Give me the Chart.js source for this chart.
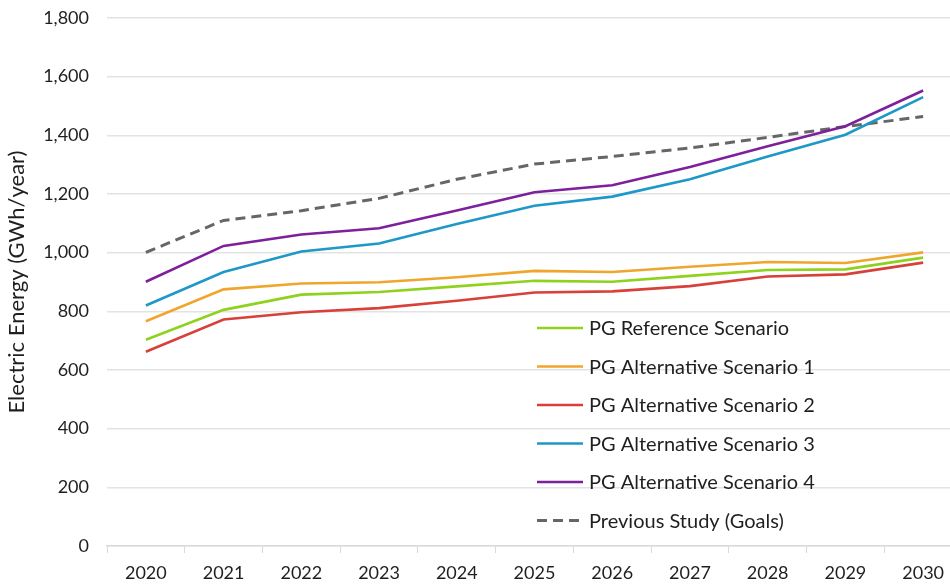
<!DOCTYPE html>
<html>
<head>
<meta charset="utf-8">
<script src="https://cdn.jsdelivr.net/npm/chart.js@4.4.1/dist/chart.umd.min.js"></script>
<style>
  html, body { margin: 0; padding: 0; background: #fff; overflow: hidden; }
  #wrap { width: 962px; height: 584px; }
</style>
</head>
<body>
<div id="wrap"><canvas id="energyChart"></canvas></div>
<script>
const years = ["2020", "2021", "2022", "2023", "2024", "2025", "2026", "2027", "2028", "2029", "2030"];

const pgReference = [703, 805, 857, 866, 885, 904, 901, 921, 941, 943, 983];
const pgAlt1 = [766, 875, 895, 899, 916, 938, 934, 952, 968, 965, 1001];
const pgAlt2 = [662, 772, 797, 811, 836, 864, 868, 886, 919, 926, 966];
const pgAlt3 = [820, 934, 1004, 1031, 1098, 1160, 1191, 1250, 1328, 1402, 1530];
const pgAlt4 = [901, 1023, 1062, 1083, 1144, 1206, 1230, 1292, 1363, 1431, 1553];
const previousStudy = [1001, 1110, 1143, 1185, 1250, 1302, 1328, 1357, 1393, 1430, 1464];

const yTicks = [0, 200, 400, 600, 800, 1000, 1200, 1400, 1600, 1800];

const FONT = "Lato, 'Open Sans', sans-serif";

// legend drawn inside the plot area, lower right
const innerLegend = {
    id: "innerLegend",
    afterDraw(chart) {
        const ctx = chart.ctx;
        const x0 = 537, y0 = 328, rowH = 38.5;
        ctx.save();
        ctx.font = "20px " + FONT;
        ctx.textBaseline = "middle";
        chart.data.datasets.forEach((ds, i) => {
            const y = y0 + i * rowH;
            ctx.strokeStyle = ds.borderColor;
            ctx.lineWidth = ds.borderWidth;
            ctx.setLineDash(ds.borderDash || []);
            ctx.beginPath();
            ctx.moveTo(x0, y);
            ctx.lineTo(x0 + 46, y);
            ctx.stroke();
            ctx.setLineDash([]);
            ctx.fillStyle = "#1f1f1f";
            ctx.fillText(ds.label, x0 + 52, y + 1);
        });
        ctx.restore();
    }
};

const line = (label, data, color, extra) => Object.assign({
    label: label,
    data: data,
    borderColor: color,
    backgroundColor: color,
    borderWidth: 2.6,
    pointRadius: 0,
    tension: 0,
    fill: false
}, extra || {});

new Chart(document.getElementById("energyChart"), {
    type: "line",
    data: {
        labels: years,
        datasets: [
            line("PG Reference Scenario", pgReference, "#8fd21e"),
            line("PG Alternative Scenario 1", pgAlt1, "#f0a52c"),
            line("PG Alternative Scenario 2", pgAlt2, "#d8403a"),
            line("PG Alternative Scenario 3", pgAlt3, "#1e98c6"),
            line("PG Alternative Scenario 4", pgAlt4, "#7e1f9c"),
            line("Previous Study (Goals)", previousStudy, "#666666", { borderDash: [10, 6], borderWidth: 3 })
        ]
    },
    options: {
        responsive: true,
        maintainAspectRatio: false,
        animation: false,
        layout: { padding: { top: 18, right: 0, bottom: 0, left: 0 } },
        plugins: {
            legend: { display: false },
            tooltip: { enabled: false }
        },
        scales: {
            x: {
                offset: true,
                afterFit: s => { s.height = 38; },
                grid: {
                    offset: true,
                    drawOnChartArea: false,
                    drawTicks: true,
                    tickLength: 7,
                    color: "#d9d9d9"
                },
                border: { color: "#d9d9d9", width: 1.5 },
                ticks: {
                    color: "#1f1f1f",
                    padding: 9,
                    maxRotation: 0,
                    font: { family: FONT, size: 18 }
                }
            },
            y: {
                min: 0,
                max: 1800,
                afterFit: s => { s.width = 107; s.paddingTop = 0; },
                afterBuildTicks: s => { s.ticks = yTicks.map(v => ({ value: v })); },
                grid: {
                    color: "#e3e3e3",
                    lineWidth: 1.5,
                    drawTicks: false
                },
                border: { display: false },
                ticks: {
                    color: "#1f1f1f",
                    padding: 18,
                    font: { family: FONT, size: 18 },
                    callback: v => Number(v).toLocaleString("en-US")
                },
                title: {
                    display: true,
                    text: "Electric Energy (GWh/year)",
                    color: "#1f1f1f",
                    padding: { top: 4, bottom: 0 },
                    font: { family: FONT, size: 22 }
                }
            }
        }
    },
    plugins: [innerLegend]
});
</script>
</body>
</html>
